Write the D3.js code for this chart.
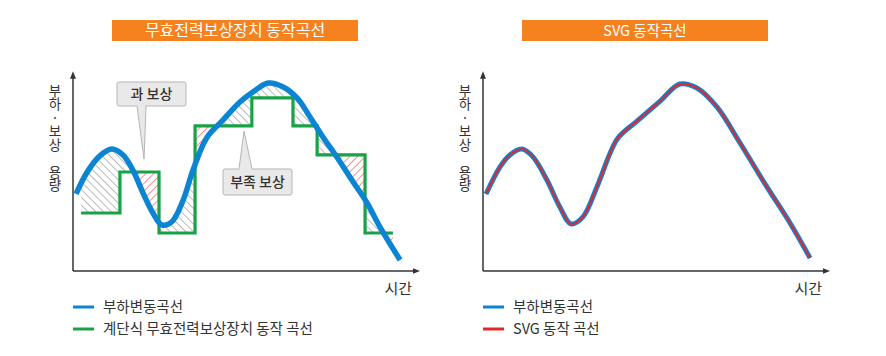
<!DOCTYPE html>
<html><head><meta charset="utf-8">
<script src="https://cdn.jsdelivr.net/npm/d3@7"></script>
<style>
html,body{margin:0;padding:0;background:#fff;}
svg{display:block;font-family:"Noto Sans CJK KR","Noto Sans",sans-serif;}
.vert{writing-mode:vertical-rl;text-orientation:upright;}
</style></head>
<body>
<svg id="c" width="886" height="356"></svg>
<script>
// ---- data ----
const titles = ["무효전력보상장치 동작곡선", "SVG 동작곡선"];
const yAxisLabel = "부하·보상 용량";
const xAxisLabel = "시간";
const legendLeft = ["부하변동곡선", "계단식 무효전력보상장치 동작 곡선"];
const legendRight = ["부하변동곡선", "SVG 동작 곡선"];
const calloutLabels = ["과 보상", "부족 보상"];

// load curve (time, capacity), left chart
const loadX = [0.9, 4.0, 7.9, 11.4, 14.7, 17.6, 20.6, 23.5, 26.1, 29.0, 32.4, 35.3, 39.3, 44.1, 49.1, 52.9, 57.4, 61.8, 65.9, 69.7, 73.5, 77.6, 82.4, 86.5, 90.3, 96.2];
const loadY = [39.3, 50.0, 58.7, 62.2, 59.2, 51.5, 39.8, 29.6, 23.5, 25.0, 36.2, 51.5, 67.9, 77.0, 86.2, 91.3, 95.9, 93.9, 88.3, 78.6, 68.4, 58.2, 45.4, 34.7, 22.4, 5.6];
// step compensator
const stepX = [2.4, 13.8, 25.3, 35.9, 52.6, 64.7, 71.8, 85.9, 94.1];
const stepY = [29.6, 50.5, 19.4, 74.0, 88.3, 74.0, 59.2, 19.4, 19.4];
// SVG chart curve
const svgX = [0.9, 5.0, 7.9, 11.5, 14.7, 18.8, 22.6, 25.9, 29.4, 33.5, 37.4, 39.7, 45.3, 52.1, 57.9, 62.9, 68.8, 75.6, 83.5, 90.3, 96.2];
const svgY = [39.3, 53.1, 59.2, 62.2, 58.2, 46.4, 32.7, 24.0, 27.6, 42.9, 60.2, 67.9, 76.5, 86.7, 95.4, 93.4, 83.7, 65.3, 42.9, 24.5, 6.6];
// callout targets (time, capacity)
const calloutTargets = [[20.9, 57.1], [50.3, 71.4]];

const C = {blue:"#0b84d4", green:"#16a245", red:"#e8262a", orange:"#f5821f", axis:"#333", text:"#333"};
const svg = d3.select("#c");
const defs = svg.append("defs");

function hatch(id, color, angle){
  const p = defs.append("pattern").attr("id", id).attr("patternUnits","userSpaceOnUse")
    .attr("width",5.5).attr("height",5.5).attr("patternTransform",`rotate(${angle})`);
  p.append("line").attr("x1",0).attr("y1",0).attr("x2",0).attr("y2",5.5)
    .attr("stroke",color).attr("stroke-width",1);
}
hatch("hg", "#777", -45);
hatch("hr", C.red, 45);

defs.append("marker").attr("id","arr").attr("viewBox","0 0 10 10").attr("refX",5).attr("refY",5)
  .attr("markerWidth",5).attr("markerHeight",5).attr("orient","auto-start-reverse")
  .append("path").attr("d","M0,1 L10,5 L0,9 z").attr("fill",C.axis);

function panel(ox, title, tsize, legend, colors){
  const x = d3.scaleLinear().domain([0,100]).range([ox+73, ox+413]);
  const y = d3.scaleLinear().domain([0,100]).range([271, 75]);
  const g = svg.append("g");
  const tw = 246;
  g.append("rect").attr("x", ox+112).attr("y",20).attr("width",tw).attr("height",21).attr("fill",C.orange);
  g.append("text").attr("x", ox+112+tw/2).attr("y",36).attr("text-anchor","middle")
    .attr("fill","#fff").attr("font-size",tsize).text(title);
  g.append("line").attr("x1",x(0)).attr("y1",y(0)).attr("x2",x(0)).attr("y2",y(100))
    .attr("stroke",C.axis).attr("stroke-width",1.5).attr("marker-end","url(#arr)");
  g.append("line").attr("x1",x(0)).attr("y1",y(0)).attr("x2",x(101)).attr("y2",y(0))
    .attr("stroke",C.axis).attr("stroke-width",1.5).attr("marker-end","url(#arr)");
  g.append("text").attr("class","vert").attr("x", ox+55).attr("y", 84)
    .attr("font-size",13.5).attr("fill",C.text).text(yAxisLabel);
  g.append("text").attr("x", x(100)-1).attr("y",294).attr("text-anchor","end")
    .attr("font-size",15).attr("fill",C.text).text(xAxisLabel);
  legend.forEach((t,i)=>{
    const ly = 307 + i*22;
    g.append("line").attr("x1",ox+73).attr("x2",ox+94).attr("y1",ly).attr("y2",ly)
      .attr("stroke",colors[i]).attr("stroke-width",3);
    g.append("text").attr("x",ox+103).attr("y",ly+5).attr("font-size",14.5).attr("fill",C.text).text(t);
  });
  return {g,x,y};
}

const curve = d3.curveCatmullRom.alpha(0.5);

// ---- left panel ----
const L = panel(0, titles[0], 16, legendLeft, [C.blue, C.green]);
{
  const {g,x,y} = L;
  const load = loadX.map((v,i)=>({x:v,y:loadY[i]}));
  const step = stepX.map((v,i)=>({x:v,y:stepY[i]}));
  defs.append("clipPath").attr("id","aboveStep").append("path")
    .attr("d", d3.area().x(d=>x(d.x)).y0(y(100)-10).y1(d=>y(d.y)).curve(d3.curveStepAfter)(step));
  defs.append("clipPath").attr("id","belowStep").append("path")
    .attr("d", d3.area().x(d=>x(d.x)).y0(y(0)).y1(d=>y(d.y)).curve(d3.curveStepAfter)(step));
  g.append("g").attr("clip-path","url(#aboveStep)").append("path")
    .attr("d", d3.area().x(d=>x(d.x)).y0(y(0)).y1(d=>y(d.y)).curve(curve)(load))
    .attr("fill","url(#hg)");
  g.append("g").attr("clip-path","url(#belowStep)").append("path")
    .attr("d", d3.area().x(d=>x(d.x)).y0(y(100)-10).y1(d=>y(d.y)).curve(curve)(load))
    .attr("fill","url(#hr)");
  g.append("path").attr("d", d3.line().x(d=>x(d.x)).y(d=>y(d.y)).curve(d3.curveStepAfter)(step))
    .attr("fill","none").attr("stroke",C.green).attr("stroke-width",3.2);
  g.append("path").attr("d", d3.line().x(d=>x(d.x)).y(d=>y(d.y)).curve(curve)(load))
    .attr("fill","none").attr("stroke",C.blue).attr("stroke-width",5.5).attr("stroke-linecap","butt");
  const boxes = [{x:117,y:82,w:69,h:24,bx:[137,146],up:false},{x:223,y:169,w:69,h:26,bx:[239,252],up:true}];
  boxes.forEach((b,i)=>{
    const tx = x(calloutTargets[i][0]), ty = y(calloutTargets[i][1]);
    const by = b.up ? b.y : b.y+b.h;
    const cg = g.append("g");
    cg.append("rect").attr("x",b.x).attr("y",b.y).attr("width",b.w).attr("height",b.h).attr("rx",2)
      .attr("fill","#e9e9e9").attr("stroke","#b5b5b5").attr("stroke-width",1);
    cg.append("path").attr("d",`M${b.bx[0]},${by} L${tx},${ty} L${b.bx[1]},${by}`)
      .attr("fill","#e9e9e9").attr("stroke","#b5b5b5").attr("stroke-width",1);
    cg.append("line").attr("x1",b.bx[0]+0.5).attr("x2",b.bx[1]-0.5).attr("y1",by).attr("y2",by)
      .attr("stroke","#e9e9e9").attr("stroke-width",2);
    cg.append("text").attr("x",b.x+b.w/2).attr("y",b.y+b.h/2+5).attr("text-anchor","middle")
      .attr("font-size",14).attr("font-weight",500).attr("fill","#333").text(calloutLabels[i]);
  });
}

// ---- right panel ----
const R = panel(410, titles[1], 14.5, legendRight, [C.blue, C.red]);
{
  const {g,x,y} = R;
  const pts = svgX.map((v,i)=>({x:v,y:svgY[i]}));
  const line = d3.line().x(d=>x(d.x)).y(d=>y(d.y)).curve(curve);
  g.append("path").attr("d", line(pts)).attr("fill","none").attr("stroke",C.blue).attr("stroke-width",5);
  g.append("path").attr("d", line(pts)).attr("fill","none").attr("stroke",C.red).attr("stroke-width",2);
}
</script>
</body></html>
